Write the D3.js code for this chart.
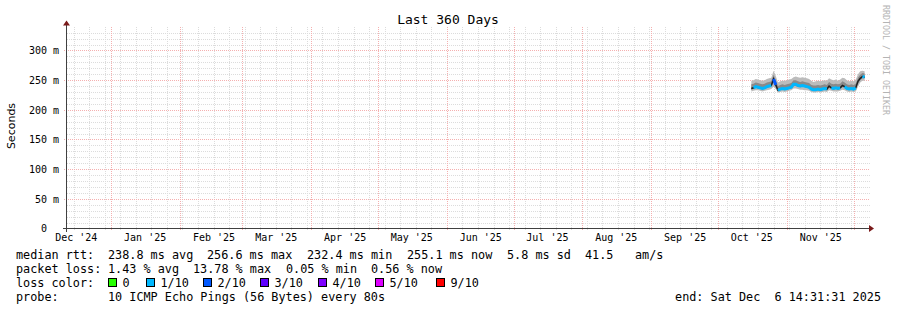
<!DOCTYPE html>
<html lang="en">
<head>
<meta charset="UTF-8">
<title>Last 360 Days</title>
<script src="https://d3js.org/d3.v7.min.js"></script>
<style>
  body { margin: 0; background: #fff; }
  svg { display: block; }
  .mono { font-family: "DejaVu Sans Mono", monospace; }
  .axis text { font-family: "DejaVu Sans Mono", monospace; font-size: 10px; fill: #000; }
  .axis path.domain { display: none; }
</style>
</head>
<body>
<svg id="chart"></svg>
<script>
// time window of the graph
const endTime = new Date(Date.UTC(2025, 11, 6, 14, 31, 31));
const startTime = new Date(endTime.getTime() - 360 * 86400000);

// daily samples, Oct 16 .. Dec 6 2025 (values in ms)
const firstDay = new Date(Date.UTC(2025, 9, 16));
const lastDay = new Date(Date.UTC(2025, 11, 7));
const median = [236,237,239,238,237,236,237,239,240,241,252,242,233,235,236,235,236,237,238,243,243,241,240,241,240,239,238,235,234,234,235,234,235,236,235,240,237,236,237,236,237,241,239,236,235,236,235,237,248,253,256,255];
const smokeLo = [231,232,233,233,232,231,232,233,234,235,239,235,229,230,231,230,231,232,233,236,236,235,234,234,233,233,232,230,229,229,230,229,230,231,230,233,232,231,231,231,232,234,233,231,230,231,230,231,239,246,249,249];
const smokeHi = [249,250,252,251,250,249,250,252,253,254,266,257,246,248,249,249,250,251,252,255,256,255,254,255,254,253,252,249,247,248,249,248,249,250,249,253,251,250,251,249,251,254,253,250,248,249,248,251,260,265,266,265];
const coreLo = [234,235,237,236,235,234,235,237,238,239,246,239,231,233,234,233,234,235,236,240,240,239,238,239,238,237,236,233,232,232,233,232,233,234,233,237,235,234,235,234,235,238,237,234,233,234,233,235,244,250,253,253];
const coreHi = [243,244,246,245,244,243,244,246,247,248,259,250,240,242,243,242,243,244,245,250,250,248,247,248,247,246,245,242,241,241,242,241,242,243,242,247,244,243,244,243,244,248,246,243,242,243,242,244,254,259,262,261];
// index into lossColors, -1 = no colour band
const lossIdx = [-1,1,1,1,1,1,1,1,1,1,2,2,1,1,1,1,1,1,1,1,1,1,1,1,1,1,1,1,1,1,1,1,1,1,1,-1,1,1,1,1,1,-1,1,1,1,1,1,1,-1,-1,1,1];

const lossLabels = ["0", "1/10", "2/10", "3/10", "4/10", "5/10", "9/10"];
const lossColors = ["#26ff00", "#00b8ff", "#0059ff", "#5e00ff", "#7e00ff", "#dd00ff", "#ff0000"];
const lossBoxX = [108, 146, 203, 260, 318, 375, 436];

const yTicks = [0, 50, 100, 150, 200, 250, 300];

const legendRtt = [["median rtt:", 16], ["238.8 ms avg", 108], ["256.6 ms max", 207], ["232.4 ms min", 307], ["255.1 ms now", 407], ["5.8 ms sd", 507], ["41.5", 585], ["am/s", 635]];
const legendLoss = [["packet loss:", 16], ["1.43 % avg", 108], ["13.78 % max", 193], ["0.05 % min", 286], ["0.56 % now", 371]];

const W = 897, H = 310;
const plotL = 66, plotR = 866, plotT = 28.5, plotB = 228.5;

const svg = d3.select("#chart").attr("width", W).attr("height", H);

const x = d3.scaleUtc().domain([startTime, endTime]).range([plotL, plotR]);
const y = d3.scaleLinear().domain([0, 337]).range([plotB, plotT]);

const days = d3.utcDay.range(firstDay, lastDay);
const data = days.map((d, i) => ({
    t: d, med: median[i], lo: smokeLo[i], hi: smokeHi[i],
    clo: coreLo[i], chi: coreHi[i], loss: lossIdx[i]
}));

// grid
const minorCol = "#dcdcdc", majorCol = "#f4b0b0";
const grid = svg.append("g").attr("shape-rendering", "crispEdges");
const minorY = d3.range(0, 337, 10).filter(v => v % 50 !== 0);
grid.selectAll(".hmin").data(minorY).join("line")
    .attr("x1", plotL + 1).attr("x2", plotR + 4)
    .attr("y1", d => Math.round(y(d)) + 0.5).attr("y2", d => Math.round(y(d)) + 0.5)
    .attr("stroke", minorCol).attr("stroke-dasharray", "1,1");
const weeks = d3.utcSunday.range(startTime, endTime);
grid.selectAll(".vmin").data(weeks).join("line")
    .attr("x1", d => Math.round(x(d)) + 0.5).attr("x2", d => Math.round(x(d)) + 0.5)
    .attr("y1", plotT - 2).attr("y2", plotB + 2)
    .attr("stroke", minorCol).attr("stroke-dasharray", "1,1");
grid.selectAll(".hmaj").data(yTicks.filter(v => v > 0)).join("line")
    .attr("x1", plotL - 2).attr("x2", plotR + 4)
    .attr("y1", d => Math.round(y(d)) + 0.5).attr("y2", d => Math.round(y(d)) + 0.5)
    .attr("stroke", majorCol).attr("stroke-dasharray", "1,1");
const months = d3.utcMonth.range(startTime, endTime);
grid.selectAll(".vmaj").data(months).join("line")
    .attr("x1", d => Math.round(x(d)) + 0.5).attr("x2", d => Math.round(x(d)) + 0.5)
    .attr("y1", plotT - 2).attr("y2", plotB + 2)
    .attr("stroke", majorCol).attr("stroke-dasharray", "1,1");

// smoke
const area = (a, b) => d3.area().x(d => x(d.t)).y0(d => y(d[a])).y1(d => y(d[b]));
svg.append("path").datum(data).attr("d", area("lo", "hi")).attr("fill", "#bcbcbc");
svg.append("path").datum(data).attr("d", area("clo", "chi")).attr("fill", "#8a8a8a");

// median line, then loss coloured segments
svg.append("path").datum(data)
    .attr("d", d3.line().x(d => x(d.t)).y(d => y(d.med)))
    .attr("fill", "none").attr("stroke", "#202020").attr("stroke-width", 1.5);
lossColors.forEach((c, k) => {
    svg.append("path").datum(data)
        .attr("d", d3.line().defined(d => d.loss === k).x(d => x(d.t)).y(d => y(d.med)))
        .attr("fill", "none").attr("stroke", c).attr("stroke-width", 3);
});

// axes
svg.append("g").attr("class", "axis")
    .attr("transform", `translate(${plotL},0)`)
    .call(d3.axisLeft(y).tickValues(yTicks).tickSize(0).tickPadding(7)
        .tickFormat(d => d === 0 ? "0" : d + " m"))
    .selectAll("text").filter(d => d === 0).attr("dx", "-1.2em");

const labelDates = months.concat([d3.utcMonth.floor(startTime)])
    .map(m => d3.utcDay.offset(m, 15))
    .filter(d => d > startTime && d < endTime);
svg.append("g").attr("class", "axis")
    .attr("transform", `translate(0,${plotB})`)
    .call(d3.axisBottom(x).tickValues(labelDates).tickSize(0).tickPadding(5)
        .tickFormat(d3.utcFormat("%b '%y")));

svg.append("line").attr("x1", plotL - 3).attr("x2", plotR + 4)
    .attr("y1", plotB).attr("y2", plotB)
    .attr("stroke", "#404040").attr("shape-rendering", "crispEdges");
svg.append("line").attr("x1", plotL + 0.5).attr("x2", plotL + 0.5)
    .attr("y1", plotB + 3).attr("y2", plotT - 4)
    .attr("stroke", "#404040").attr("shape-rendering", "crispEdges");
svg.append("path").attr("d", `M${plotL - 3},${plotT - 3}L${plotL + 0.5},${plotT - 8}L${plotL + 4},${plotT - 3}Z`).attr("fill", "#7a1a1a");
svg.append("path").attr("d", `M${plotR + 3},${plotB - 3.5}L${plotR + 8},${plotB}L${plotR + 3},${plotB + 3.5}Z`).attr("fill", "#7a1a1a");

// titles
svg.append("text").attr("class", "mono").attr("x", 448).attr("y", 24)
    .attr("text-anchor", "middle").attr("font-size", 13).text("Last 360 Days");
svg.append("text").attr("transform", "translate(15,126) rotate(-90)")
    .attr("text-anchor", "middle").attr("font-family", "DejaVu Sans, sans-serif")
    .attr("font-size", 11).text("Seconds");
svg.append("text").attr("class", "mono").attr("transform", "translate(883,60) rotate(90)")
    .attr("text-anchor", "middle").attr("font-size", 8.3).attr("fill", "#b4b4b4")
    .text("RRDTOOL / TOBI OETIKER");

// legend
const lg = svg.append("g").attr("class", "mono").attr("font-size", 11.8);
lg.selectAll(".rtt").data(legendRtt).join("text")
    .attr("x", d => d[1]).attr("y", 258.5).text(d => d[0]);
lg.selectAll(".pl").data(legendLoss).join("text")
    .attr("x", d => d[1]).attr("y", 272.5).text(d => d[0]);
lg.append("text").attr("x", 16).attr("y", 286.5).text("loss color:");
lg.selectAll(".box").data(lossColors).join("rect")
    .attr("x", (d, i) => lossBoxX[i] + 0.5).attr("y", 278.5).attr("width", 8).attr("height", 8)
    .attr("fill", d => d).attr("stroke", "#000");
lg.selectAll(".bl").data(lossLabels).join("text")
    .attr("x", (d, i) => lossBoxX[i] + 14.5).attr("y", 286.5).text(d => d);
lg.append("text").attr("x", 16).attr("y", 300.5).text("probe:");
lg.append("text").attr("x", 108).attr("y", 300.5).text("10 ICMP Echo Pings (56 Bytes) every 80s");
lg.append("text").attr("x", 881).attr("y", 300.5).attr("text-anchor", "end")
    .attr("xml:space", "preserve").text("end: Sat Dec  6 14:31:31 2025");
</script>
</body>
</html>
